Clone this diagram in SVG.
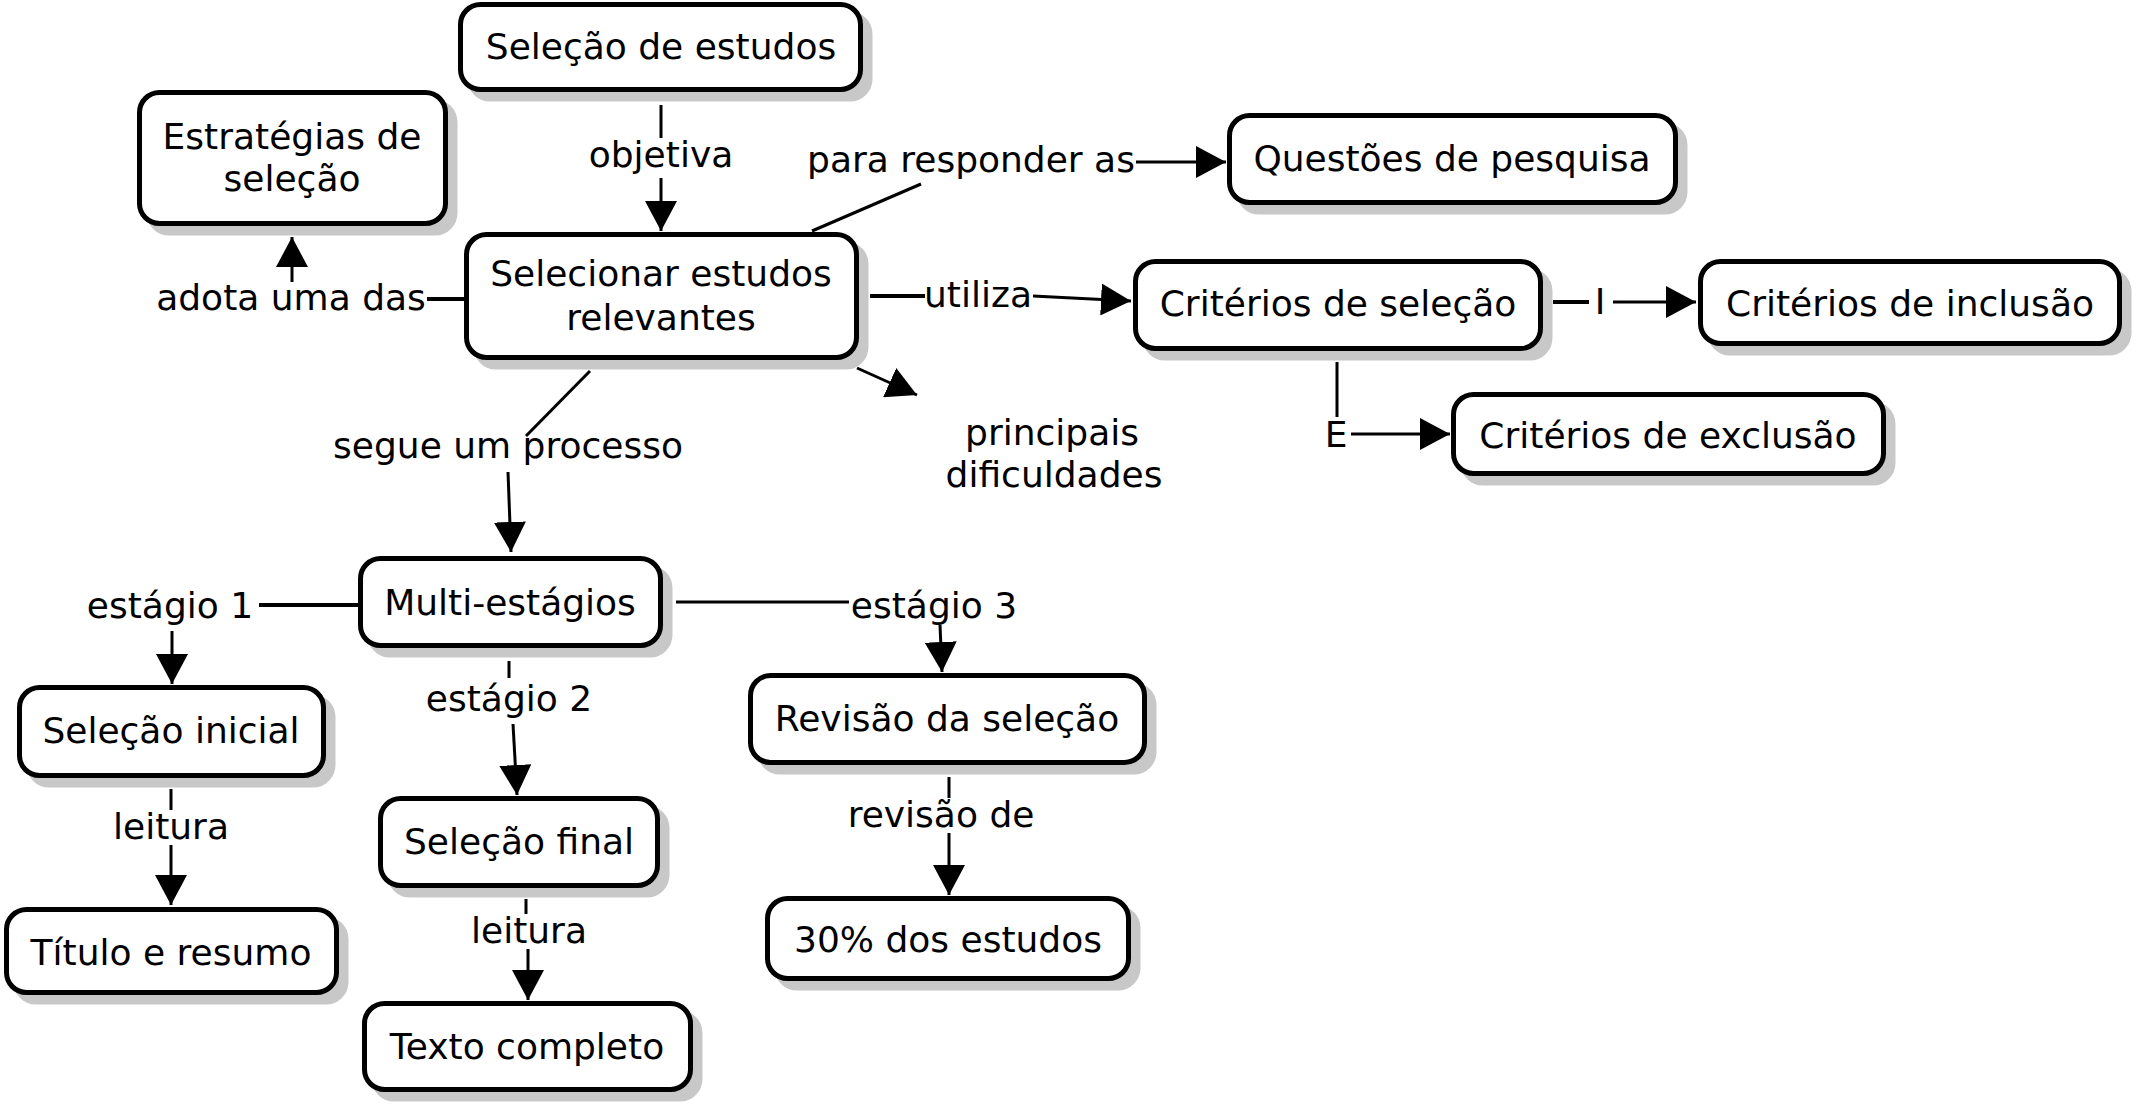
<svg xmlns="http://www.w3.org/2000/svg" width="2140" height="1109" viewBox="0 0 2140 1109">
<style>
.shadow{fill:#c8c8c8;stroke:#c8c8c8;stroke-width:5}
.box{fill:#fff;stroke:#000;stroke-width:5}
text{font-family:"DejaVu Sans","Verdana",sans-serif;font-size:36px;fill:#000;text-anchor:middle}
.c line,.c polyline{stroke:#000;stroke-width:3;fill:none}
</style>
<defs>
<marker id="ah" markerUnits="userSpaceOnUse" markerWidth="31" markerHeight="32" refX="30" refY="16" orient="auto" viewBox="0 0 31 32">
<path d="M0,0 L30,16 L0,32 z" fill="#000"/>
</marker>
</defs>
<rect width="2140" height="1109" fill="#fff"/>
<g class="c" id="connectors">
<line x1="661" y1="105" x2="661" y2="138"/>
<line x1="661" y1="178" x2="661" y2="231" marker-end="url(#ah)"/>
<line x1="812" y1="231" x2="921" y2="184"/>
<line x1="1136" y1="162" x2="1226" y2="162" marker-end="url(#ah)"/>
<line x1="427" y1="299" x2="464" y2="299" style="stroke-width:4"/>
<line x1="292" y1="282" x2="292" y2="237" marker-end="url(#ah)"/>
<line x1="870" y1="296" x2="925" y2="296" style="stroke-width:4"/>
<line x1="1033" y1="296" x2="1131" y2="301" marker-end="url(#ah)"/>
<line x1="857" y1="368" x2="917" y2="395" marker-end="url(#ah)"/>
<line x1="590" y1="371" x2="526" y2="436"/>
<line x1="508" y1="472" x2="511" y2="552" marker-end="url(#ah)"/>
<line x1="259" y1="605" x2="358" y2="605" style="stroke-width:4"/>
<line x1="172" y1="631" x2="172" y2="684" marker-end="url(#ah)"/>
<line x1="509" y1="661" x2="509" y2="678"/>
<line x1="513" y1="724" x2="517" y2="795" marker-end="url(#ah)"/>
<line x1="676" y1="602" x2="849" y2="602"/>
<line x1="940" y1="625" x2="942" y2="672" marker-end="url(#ah)"/>
<line x1="171" y1="789" x2="171" y2="810"/>
<line x1="171" y1="845" x2="171" y2="905" marker-end="url(#ah)"/>
<line x1="526" y1="899" x2="526" y2="914"/>
<line x1="528" y1="949" x2="528" y2="1000" marker-end="url(#ah)"/>
<line x1="949" y1="777" x2="949" y2="798"/>
<line x1="949" y1="833" x2="949" y2="895" marker-end="url(#ah)"/>
<line x1="1553" y1="302" x2="1589" y2="302" style="stroke-width:4"/>
<line x1="1613" y1="302" x2="1696" y2="302" marker-end="url(#ah)"/>
<line x1="1337" y1="362" x2="1337" y2="417"/>
<line x1="1351" y1="434" x2="1450" y2="434" marker-end="url(#ah)"/>
</g>
<g id="labels">
<text x="661" y="167">objetiva</text>
<text x="971" y="172">para responder as</text>
<text x="291" y="310">adota uma das</text>
<text x="978" y="307">utiliza</text>
<text x="1052" y="445">principais</text>
<text x="1054" y="487">dificuldades</text>
<text x="508" y="458">segue um processo</text>
<text x="170" y="618">estágio 1</text>
<text x="509" y="711">estágio 2</text>
<text x="934" y="618">estágio 3</text>
<text x="171" y="839">leitura</text>
<text x="529" y="943">leitura</text>
<text x="941" y="827">revisão de</text>
<text x="1600" y="314">I</text>
<text x="1336" y="447">E</text>
</g>
<g id="n1"><rect class="shadow" x="470" y="14" width="400" height="85" rx="20"/><rect class="box" x="460.5" y="4.5" width="400" height="85" rx="20"/><text x="661" y="59">Seleção de estudos</text></g>
<g id="n2"><rect class="shadow" x="149" y="102" width="306" height="131" rx="20"/><rect class="box" x="139.5" y="92.5" width="306" height="131" rx="20"/><text x="292" y="149">Estratégias de</text><text x="292" y="191">seleção</text></g>
<g id="n3"><rect class="shadow" x="476" y="244" width="390" height="123" rx="20"/><rect class="box" x="466.5" y="234.5" width="390" height="123" rx="20"/><text x="661" y="286">Selecionar estudos</text><text x="661" y="330">relevantes</text></g>
<g id="n4"><rect class="shadow" x="1239" y="125" width="446" height="87" rx="20"/><rect class="box" x="1229.5" y="115.5" width="446" height="87" rx="20"/><text x="1452" y="171">Questões de pesquisa</text></g>
<g id="n5"><rect class="shadow" x="1145" y="271" width="405" height="87" rx="20"/><rect class="box" x="1135.5" y="261.5" width="405" height="87" rx="20"/><text x="1338" y="316">Critérios de seleção</text></g>
<g id="n6"><rect class="shadow" x="1710" y="271" width="419" height="82" rx="20"/><rect class="box" x="1700.5" y="261.5" width="419" height="82" rx="20"/><text x="1910" y="316">Critérios de inclusão</text></g>
<g id="n7"><rect class="shadow" x="1463" y="404" width="430" height="79" rx="20"/><rect class="box" x="1453.5" y="394.5" width="430" height="79" rx="20"/><text x="1668" y="448">Critérios de exclusão</text></g>
<g id="n8"><rect class="shadow" x="370" y="568" width="300" height="87" rx="20"/><rect class="box" x="360.5" y="558.5" width="300" height="87" rx="20"/><text x="510" y="615">Multi-estágios</text></g>
<g id="n9"><rect class="shadow" x="29" y="697" width="304" height="88" rx="20"/><rect class="box" x="19.5" y="687.5" width="304" height="88" rx="20"/><text x="171" y="743">Seleção inicial</text></g>
<g id="n10"><rect class="shadow" x="16" y="919" width="330" height="83" rx="20"/><rect class="box" x="6.5" y="909.5" width="330" height="83" rx="20"/><text x="171" y="965">Título e resumo</text></g>
<g id="n11"><rect class="shadow" x="390" y="808" width="277" height="87" rx="20"/><rect class="box" x="380.5" y="798.5" width="277" height="87" rx="20"/><text x="519" y="854">Seleção final</text></g>
<g id="n12"><rect class="shadow" x="374" y="1013" width="326" height="86" rx="20"/><rect class="box" x="364.5" y="1003.5" width="326" height="86" rx="20"/><text x="527" y="1059">Texto completo</text></g>
<g id="n13"><rect class="shadow" x="760" y="685" width="394" height="87" rx="20"/><rect class="box" x="750.5" y="675.5" width="394" height="87" rx="20"/><text x="947" y="731">Revisão da seleção</text></g>
<g id="n14"><rect class="shadow" x="777" y="908" width="361" height="80" rx="20"/><rect class="box" x="767.5" y="898.5" width="361" height="80" rx="20"/><text x="948" y="952">30% dos estudos</text></g>
</svg>
